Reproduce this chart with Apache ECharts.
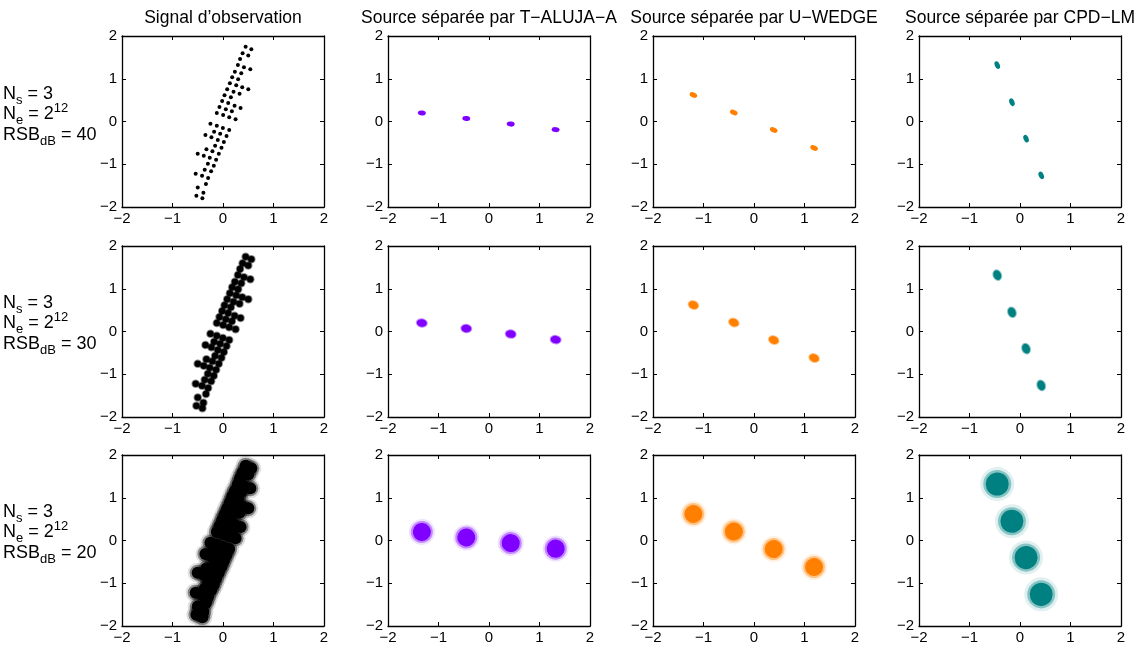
<!DOCTYPE html>
<html><head><meta charset="utf-8">
<script src="https://cdn.jsdelivr.net/npm/echarts@6/dist/echarts.min.js"></script>
<style>html,body{margin:0;padding:0;background:#fff}#c{width:1138px;height:646px}</style>
</head><body><div id="c"></div>
<script>
// ---------- data ----------
const columnTitles = ['Signal d’observation', 'Source séparée par T−ALUJA−A', 'Source séparée par U−WEDGE', 'Source séparée par CPD−LM'];
const snrLevels = [40, 30, 20];
const sourceCount = 3;
const sampleExp = 12;
const axisTicks = [-2, -1, 0, 1, 2];

const observation = [
  [0.448,1.750],[0.561,1.688],[0.388,1.595],[0.500,1.545],
  [0.338,1.460],[0.295,1.322],[0.415,1.267],[0.541,1.220],
  [0.235,1.166],[0.362,1.127],[0.182,1.033],[0.300,0.990],
  [0.136,0.893],[0.262,0.846],[0.381,0.799],[0.501,0.752],
  [0.083,0.752],[0.209,0.698],[0.328,0.651],[0.030,0.612],
  [0.156,0.565],[-0.017,0.480],[0.103,0.433],[0.229,0.370],
  [0.348,0.316],[-0.070,0.339],[0.056,0.285],[0.176,0.238],
  [-0.123,0.199],[0.003,0.152],[0.123,0.097],[0.249,0.051],
  [-0.249,-0.051],[-0.123,-0.097],[-0.003,-0.152],[0.123,-0.199],
  [-0.176,-0.238],[-0.056,-0.285],[0.070,-0.339],[-0.348,-0.316],
  [-0.229,-0.370],[-0.103,-0.433],[0.017,-0.480],[-0.156,-0.565],
  [-0.030,-0.612],[-0.328,-0.651],[-0.209,-0.698],[-0.083,-0.752],
  [-0.501,-0.752],[-0.381,-0.799],[-0.262,-0.846],[-0.136,-0.893],
  [-0.300,-0.990],[-0.182,-1.033],[-0.362,-1.127],[-0.235,-1.166],
  [-0.541,-1.220],[-0.415,-1.267],[-0.295,-1.322],[-0.338,-1.460],
  [-0.500,-1.545],[-0.388,-1.665],[-0.527,-1.735],[-0.408,-1.797]
];
// separated sources (cluster centres)
const tAlujaA = [[-1.33,0.20],[-0.45,0.07],[0.43,-0.06],[1.32,-0.19]];
const uWedge  = [[-1.20,0.62],[-0.40,0.21],[0.39,-0.20],[1.19,-0.62]];
const cpdLm   = [[-0.45,1.32],[-0.16,0.45],[0.12,-0.40],[0.42,-1.26]];

// ---------- layout / style ----------
const GRID_LEFT = [122, 388, 653, 919], GRID_TOP = [36, 246, 455], GW = 202, GH = 171;
const COLORS = ['#000000', '#7f00ff', '#ff8000', '#008080'];
const PANEL_DATA = [observation, tAlujaA, uWedge, cpdLm];
const ROT = [0, -7, -23, -68];
const FONT = '"Liberation Sans", Arial, Helvetica, sans-serif';

function symStyle(row, col) {
  if (col === 0) {
    if (row === 0) return { core: 4, layers: [] };
    if (row === 1) return { core: 6.5, layers: [[8.5, 0.45]] };
    return { core: 12, layers: [[16, 0.4], [20, 0.12]] };
  }
  if (row === 0) return { core: [8, 5], layers: [] };
  if (row === 1) return { core: [10, 7.5], layers: [[[12, 9.5], 0.45]] };
  if (col === 3) return { core: 23, layers: [[28, 0.4], [34, 0.12]] };
  return { core: 18, layers: [[22, 0.4], [26, 0.12]] };
}

const fmt = v => String(v).replace('-', '−');
const grids = [], xAxes = [], yAxes = [], series = [], graphics = [];
let g = 0;
for (let r = 0; r < 3; r++) {
  for (let c = 0; c < 4; c++) {
    grids.push({ left: GRID_LEFT[c], top: GRID_TOP[r], width: GW, height: GH, outerBoundsMode: 'none', containLabel: false });
    const base = { gridIndex: g, type: 'value', min: axisTicks[0], max: axisTicks[axisTicks.length - 1], interval: 1,
      splitLine: { show: false },
      axisLine: { show: true, onZero: false, lineStyle: { color: '#000', width: 1.3 } },
      axisTick: { show: true, inside: true, length: 4, lineStyle: { color: '#000', width: 1 } } };
    xAxes.push(Object.assign({}, base, { position: 'bottom',
      axisLabel: { show: true, color: '#000', fontSize: 15, fontFamily: FONT, margin: 4, formatter: fmt } }));
    xAxes.push(Object.assign({}, base, { position: 'top', axisLabel: { show: false } }));
    yAxes.push(Object.assign({}, base, { position: 'left',
      axisLabel: { show: true, color: '#000', fontSize: 15, fontFamily: FONT, margin: 5, formatter: fmt } }));
    yAxes.push(Object.assign({}, base, { position: 'right', axisLabel: { show: false } }));
    const st = symStyle(r, c);
    const common = { type: 'scatter', xAxisIndex: 2 * g, yAxisIndex: 2 * g, data: PANEL_DATA[c], silent: true,
      symbol: 'circle', symbolRotate: ROT[c], animation: false };
    for (let k = st.layers.length - 1; k >= 0; k--) {
      series.push(Object.assign({}, common, { symbolSize: st.layers[k][0], itemStyle: { color: COLORS[c], opacity: st.layers[k][1] } }));
    }
    series.push(Object.assign({}, common, { symbolSize: st.core, itemStyle: { color: COLORS[c], opacity: 1 } }));
    g++;
  }
}

// column titles
for (let c = 0; c < 4; c++) {
  graphics.push({ type: 'text', x: GRID_LEFT[c] + GW / 2, y: 18, silent: true,
    style: { text: columnTitles[c], fill: '#000', font: '17.5px ' + FONT, textAlign: 'center', textVerticalAlign: 'middle' } });
}
// row labels (N_s, N_e, RSB_dB) with sub/superscripts laid out by measured widths
const ctx = document.createElement('canvas').getContext('2d');
function w(text, size) { ctx.font = size + 'px ' + FONT; return ctx.measureText(text).width; }
function t(x, y, text, size) {
  graphics.push({ type: 'text', x: x, y: y, silent: true,
    style: { text: text, fill: '#000', font: size + 'px ' + FONT, textAlign: 'left', textVerticalAlign: 'middle' } });
  return x + w(text, size);
}
const BIG = 18, SMALL = 13, LX = 3;
const LINE_Y = [94, 114.5, 135.5];
for (let r = 0; r < 3; r++) {
  const off = r * 209;
  const y1 = LINE_Y[0] + off, y2 = LINE_Y[1] + off, y3 = LINE_Y[2] + off;
  let x = t(LX, y1, 'N', BIG); x = t(x, y1 + 6, 's', SMALL); t(x, y1, ' = ' + sourceCount, BIG);
  x = t(LX, y2, 'N', BIG); x = t(x, y2 + 6, 'e', SMALL); x = t(x, y2, ' = 2', BIG); t(x, y2 - 6.5, String(sampleExp), SMALL);
  x = t(LX, y3, 'RSB', BIG); x = t(x, y3 + 6, 'dB', SMALL); t(x, y3, ' = ' + snrLevels[r], BIG);
}

const chart = echarts.init(document.getElementById('c'), null, { renderer: 'canvas' });
chart.setOption({ animation: false, backgroundColor: '#fff', grid: grids, xAxis: xAxes, yAxis: yAxes, series: series, graphic: graphics });
</script></body></html>
